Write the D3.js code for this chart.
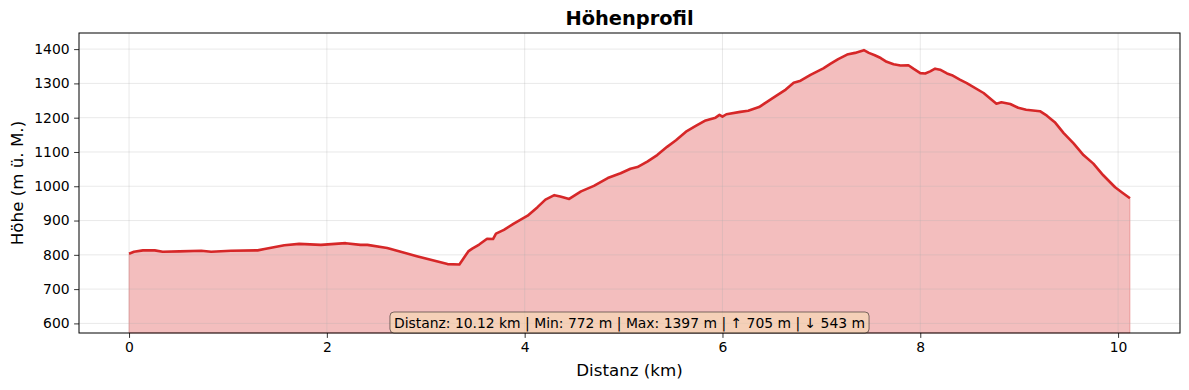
<!DOCTYPE html>
<html>
<head>
<meta charset="utf-8">
<script src="https://cdn.jsdelivr.net/npm/d3@7"></script>
<style>
  body { margin: 0; background: #fff; }
  svg text { font-family: "DejaVu Sans", sans-serif; }
</style>
</head>
<body>
<div id="chart"></div>
<script>
// Distanz in km und Höhe in m ü. M.
var distKm = [0.00, 0.05, 0.14, 0.26, 0.34, 0.51, 0.73, 0.83, 1.03, 1.30, 1.37, 1.57, 1.72, 1.94, 2.19, 2.34,
  2.41, 2.61, 2.91, 3.22, 3.34, 3.43, 3.47, 3.54, 3.62, 3.68, 3.71, 3.79, 3.89, 4.03, 4.13, 4.21, 4.30, 4.36,
  4.45, 4.57, 4.70, 4.84, 4.97, 5.07, 5.14, 5.24, 5.34, 5.44, 5.53, 5.64, 5.73, 5.83, 5.93, 5.97, 6.00, 6.04,
  6.18, 6.26, 6.37, 6.45, 6.55, 6.64, 6.72, 6.79, 6.89, 6.96, 7.02, 7.09, 7.17, 7.26, 7.34, 7.43, 7.48, 7.54,
  7.60, 7.66, 7.73, 7.80, 7.88, 7.93, 8.00, 8.05, 8.10, 8.15, 8.20, 8.27, 8.32, 8.40, 8.47, 8.64, 8.77, 8.82,
  8.91, 8.99, 9.07, 9.21, 9.28, 9.36, 9.45, 9.55, 9.65, 9.75, 9.85, 9.97, 10.04, 10.12];
var elevM = [803, 809, 813, 813, 809, 810, 812, 809, 812, 813, 817, 828, 832, 829, 834, 829,
  829, 820, 796, 773, 772, 810, 818, 830, 847, 846, 862, 873, 891, 914, 939, 961, 974, 970,
  963, 985, 1001, 1024, 1038, 1051, 1056, 1072, 1091, 1115, 1134, 1161, 1176, 1192, 1200, 1208, 1203, 1210,
  1217, 1220, 1231, 1246, 1265, 1282, 1302, 1308, 1325, 1335, 1344, 1357, 1371, 1384, 1389, 1397, 1389, 1382,
  1374, 1363, 1356, 1352, 1353, 1343, 1330, 1329, 1335, 1343, 1340, 1329, 1324, 1311, 1301, 1272, 1241, 1245,
  1240, 1229, 1223, 1219, 1206, 1187, 1155, 1125, 1091, 1066, 1032, 997, 982, 965];

var xTicks = [0, 2, 4, 6, 8, 10];
var yTicks = [600, 700, 800, 900, 1000, 1100, 1200, 1300, 1400];

var totalKm = 10.12, minM = 772, maxM = 1397, upM = 705, downM = 543;

var w = 1189, h = 390;
var margin = {top: 33, right: 9, bottom: 57, left: 79};

var svg = d3.select("#chart").append("svg")
  .attr("width", w)
  .attr("height", h);

var x = d3.scaleLinear().domain([-0.506, 10.626]).range([margin.left, w - margin.right]);
var y = d3.scaleLinear().domain([572, 1447]).range([h - margin.bottom, margin.top]);

var data = distKm.map(function (d, i) { return {d: d, e: elevM[i]}; });

var red = "#d62728";

// fill under the profile
var area = d3.area()
  .x(function (d) { return x(d.d); })
  .y0(y(572))
  .y1(function (d) { return y(d.e); });

svg.append("path")
  .datum(data)
  .attr("d", area)
  .attr("fill", red)
  .attr("fill-opacity", 0.3)
  .attr("stroke", red)
  .attr("stroke-opacity", 0.3)
  .attr("stroke-width", 1);

// grid
var grid = svg.append("g");
grid.selectAll("line.gx")
  .data(xTicks)
  .enter().append("line")
  .attr("x1", function (d) { return x(d); })
  .attr("x2", function (d) { return x(d); })
  .attr("y1", margin.top)
  .attr("y2", h - margin.bottom)
  .attr("stroke", "#b0b0b0")
  .attr("stroke-opacity", 0.35)
  .attr("stroke-width", 0.8);
grid.selectAll("line.gy")
  .data(yTicks)
  .enter().append("line")
  .attr("x1", margin.left)
  .attr("x2", w - margin.right)
  .attr("y1", function (d) { return y(d); })
  .attr("y2", function (d) { return y(d); })
  .attr("stroke", "#b0b0b0")
  .attr("stroke-opacity", 0.35)
  .attr("stroke-width", 0.8);

// profile line
var line = d3.line()
  .x(function (d) { return x(d.d); })
  .y(function (d) { return y(d.e); });

svg.append("path")
  .datum(data)
  .attr("d", line)
  .attr("fill", "none")
  .attr("stroke", red)
  .attr("stroke-width", 2.6)
  .attr("stroke-linejoin", "round");

// axes
var xAxis = svg.append("g")
  .attr("transform", "translate(0," + (h - margin.bottom) + ")")
  .call(d3.axisBottom(x).tickValues(xTicks).tickSize(4.9).tickPadding(4.5).tickFormat(d3.format("d")));
var yAxis = svg.append("g")
  .attr("transform", "translate(" + margin.left + ",0)")
  .call(d3.axisLeft(y).tickValues(yTicks).tickSize(4.9).tickPadding(4.5).tickFormat(d3.format("d")));

[xAxis, yAxis].forEach(function (a) {
  a.select(".domain").remove();
  a.selectAll("text").attr("font-size", 13.9).attr("fill", "#000")
    .style("font-family", "DejaVu Sans, sans-serif");
  a.selectAll("line").attr("stroke", "#000").attr("stroke-width", 0.8);
});

// frame
svg.append("rect")
  .attr("x", margin.left)
  .attr("y", margin.top)
  .attr("width", w - margin.left - margin.right)
  .attr("height", h - margin.top - margin.bottom)
  .attr("fill", "none")
  .attr("stroke", "#000")
  .attr("stroke-width", 1);

// stats box
var statsText = "Distanz: " + totalKm.toFixed(2) + " km | Min: " + minM + " m | Max: " + maxM +
  " m | \u2191 " + upM + " m | \u2193 " + downM + " m";
var cx = (margin.left + w - margin.right) / 2;
var box = svg.append("g");
var t = box.append("text")
  .attr("x", cx)
  .attr("y", 327.5)
  .attr("text-anchor", "middle")
  .attr("font-size", 13.9)
  .attr("fill", "#000")
  .text(statsText);
var bb = t.node().getBBox();
box.insert("rect", "text")
  .attr("x", bb.x - 4)
  .attr("y", 312)
  .attr("width", bb.width + 8)
  .attr("height", 21)
  .attr("rx", 4)
  .attr("fill", "#f5deb3")
  .attr("fill-opacity", 0.55)
  .attr("stroke", "#000")
  .attr("stroke-opacity", 0.5)
  .attr("stroke-width", 1);

// labels
svg.append("text")
  .attr("x", cx)
  .attr("y", 25)
  .attr("text-anchor", "middle")
  .attr("font-size", 19.4)
  .attr("font-weight", "bold")
  .text("Höhenprofil");

svg.append("text")
  .attr("x", cx)
  .attr("y", 376)
  .attr("text-anchor", "middle")
  .attr("font-size", 16.7)
  .text("Distanz (km)");

svg.append("text")
  .attr("transform", "translate(23," + ((margin.top + h - margin.bottom) / 2) + ") rotate(-90)")
  .attr("text-anchor", "middle")
  .attr("font-size", 16.7)
  .text("Höhe (m ü. M.)");
</script>
</body>
</html>
